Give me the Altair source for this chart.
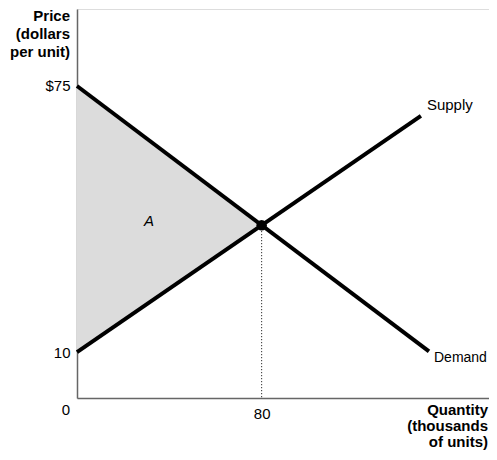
import altair as alt
import pandas as pd

# Data
demand_q = [0, 152.5]
demand_p = [75, 10.2]
supply_q = [0, 149]
supply_p = [10, 67.7]
eq_q = [80]
eq_p = [41]
area_q = [0, 80]
area_demand = [75, 41]
area_supply = [10, 41]
y_ticks = [10, 75]
x_ticks = [80]

X_DOM = [0, 178.5]
Y_DOM = [-1.2, 93.8]
FONT = "Liberation Sans"
FS = 15

xs = alt.Scale(domain=X_DOM, nice=False, zero=False)
ys = alt.Scale(domain=Y_DOM, nice=False, zero=False)

demand = pd.DataFrame({"q": demand_q, "p": demand_p})
supply = pd.DataFrame({"q": supply_q, "p": supply_p})
area = pd.DataFrame({"q": area_q, "d": area_demand, "s": area_supply})
eq = pd.DataFrame({"q": eq_q, "p": eq_p})

base_axis_x = alt.Axis(values=x_ticks, title=None, tickSize=0, labelFontSize=FS,
                       labelFont=FONT, labelColor="black", labelPadding=8,
                       domainColor="#666", domainWidth=1.5, grid=False)
base_axis_y = alt.Axis(values=y_ticks, title=None, tickSize=0, labelFontSize=FS,
                       labelFont=FONT, labelColor="black", labelPadding=7,
                       domainColor="#666", domainWidth=1.5, grid=False,
                       labelExpr="datum.value == 75 ? '$75' : datum.value")

shade = alt.Chart(area).mark_area(color="#dcdcdc", opacity=1).encode(
    x=alt.X("q:Q", scale=xs, axis=base_axis_x),
    y=alt.Y("d:Q", scale=ys, axis=base_axis_y),
    y2="s:Q",
)

dotted = alt.Chart(eq).mark_rule(color="black", strokeWidth=1, strokeDash=[1, 2]).encode(
    x=alt.X("q:Q", scale=xs),
    y=alt.Y("p:Q", scale=ys),
    y2=alt.datum(Y_DOM[0]),
)

dline = alt.Chart(demand).mark_line(color="black", strokeWidth=4).encode(
    x=alt.X("q:Q", scale=xs), y=alt.Y("p:Q", scale=ys))
sline = alt.Chart(supply).mark_line(color="black", strokeWidth=4).encode(
    x=alt.X("q:Q", scale=xs), y=alt.Y("p:Q", scale=ys))

point = alt.Chart(eq).mark_circle(color="black", size=110, opacity=1).encode(
    x=alt.X("q:Q", scale=xs), y=alt.Y("p:Q", scale=ys))

sup_lab = alt.Chart(pd.DataFrame({"q": [supply_q[1]], "p": [supply_p[1]], "t": ["Supply"]})).mark_text(
    align="left", baseline="middle", fontSize=FS, font=FONT, dx=6, dy=-11
).encode(x=alt.X("q:Q", scale=xs), y=alt.Y("p:Q", scale=ys), text="t:N")
dem_lab = alt.Chart(pd.DataFrame({"q": [demand_q[1]], "p": [demand_p[1]], "t": ["Demand"]})).mark_text(
    align="left", baseline="middle", fontSize=14, font=FONT, dx=5, dy=7
).encode(x=alt.X("q:Q", scale=xs), y=alt.Y("p:Q", scale=ys), text="t:N")

a_lab = alt.Chart(pd.DataFrame({"q": [31.2], "p": [42], "t": ["A"]})).mark_text(
    align="center", baseline="middle", fontSize=FS, font=FONT, fontStyle="italic"
).encode(x=alt.X("q:Q", scale=xs), y=alt.Y("p:Q", scale=ys), text="t:N")

zero_lab = alt.Chart(pd.DataFrame({"q": [0], "p": [Y_DOM[0]], "t": ["0"]})).mark_text(
    align="center", baseline="top", fontSize=FS, font=FONT, dx=-11, dy=5
).encode(x=alt.X("q:Q", scale=xs), y=alt.Y("p:Q", scale=ys), text="t:N")

y_title = alt.Chart(pd.DataFrame({"t": [["Price", "(dollars", "per unit)"]]})).mark_text(
    align="right", baseline="alphabetic", fontSize=FS, font=FONT, fontWeight="bold",
    lineHeight=18
).encode(x=alt.value(-7), y=alt.value(12), text="t")

x_title = alt.Chart(pd.DataFrame({"t": [["Quantity", "(thousands", "of units)"]]})).mark_text(
    align="right", baseline="alphabetic", fontSize=FS, font=FONT, fontWeight="bold",
    lineHeight=16
).encode(x=alt.value(411), y=alt.value(406), text="t")

chart = alt.layer(shade, dotted, dline, sline, point, sup_lab, dem_lab, a_lab,
                  zero_lab, y_title, x_title).properties(
    width=412, height=389,
    padding={"left": 69, "top": 1, "right": 0, "bottom": 53},
    autosize="none",
).configure_view(stroke=None).configure(background="white")

chart.save("out.html", embed_options={"renderer": "svg", "actions": False})
